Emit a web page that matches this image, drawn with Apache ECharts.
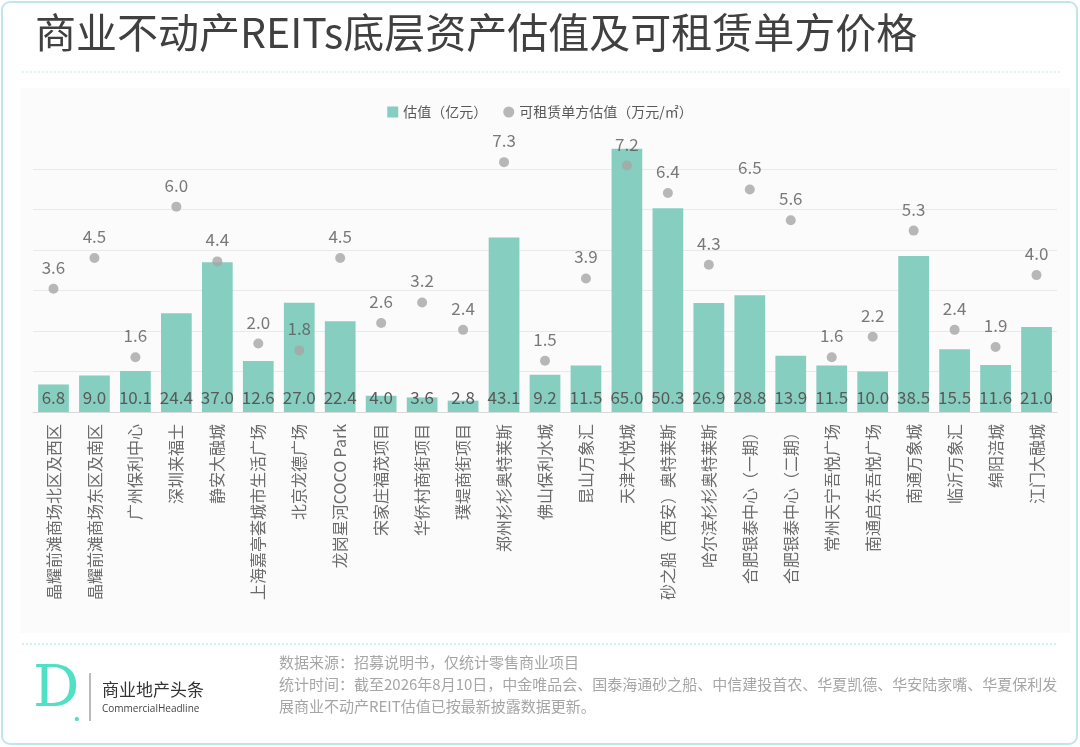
<!doctype html>
<html>
<head>
  <meta charset="utf-8">
  <title>index</title>
  <script src="https://cdn.jsdelivr.net/npm/echarts@6/dist/echarts.min.js"></script>
  <style>
    html, body { margin: 0; padding: 0; background: #fff; }
    #main { width: 1080px; height: 747px; }
  </style>
</head>
<body>
  <div id="main"></div>
  <script>
    // 项目名称
    var names = ['晶耀前滩商场北区及西区', '晶耀前滩商场东区及南区', '广州保利中心', '深圳来福士', '静安大融城',
      '上海嘉亭荟城市生活广场', '北京龙德广场', '龙岗星河COCO Park', '宋家庄福茂项目', '华侨村商街项目',
      '璞堤商街项目', '郑州杉杉奥特莱斯', '佛山保利水城', '昆山万象汇', '天津大悦城',
      '砂之船（西安）奥特莱斯', '哈尔滨杉杉奥特莱斯', '合肥银泰中心（一期）', '合肥银泰中心（二期）', '常州天宁吾悦广场',
      '南通启东吾悦广场', '南通万象城', '临沂万象汇', '绵阳涪城', '江门大融城'];
    // 估值（亿元）
    var valuation = [6.8, 9.0, 10.1, 24.4, 37.0, 12.6, 27.0, 22.4, 4.0, 3.6,
      2.8, 43.1, 9.2, 11.5, 65.0, 50.3, 26.9, 28.8, 13.9, 11.5,
      10.0, 38.5, 15.5, 11.6, 21.0];
    // 可租赁单方估值（万元/㎡）
    var unitPrice = [3.6, 4.5, 1.6, 6.0, 4.4, 2.0, 1.8, 4.5, 2.6, 3.2,
      2.4, 7.3, 1.5, 3.9, 7.2, 6.4, 4.3, 6.5, 5.6, 1.6,
      2.2, 5.3, 2.4, 1.9, 4.0];

    var font = '"Noto Sans CJK SC", "Noto Sans", sans-serif';
    var chart = echarts.init(document.getElementById('main'));

    chart.setOption({
      backgroundColor: '#fff',
      textStyle: { fontFamily: font },
      animation: false,
      title: {
        text: '商业不动产REITs底层资产估值及可租赁单方价格',
        left: 30, top: 7,
        textStyle: { fontSize: 41, fontWeight: 'normal', color: '#404040', fontFamily: font }
      },
      legend: {
        top: 100, left: 'center',
        itemWidth: 11, itemHeight: 11, itemGap: 16,
        textStyle: { fontSize: 14, color: '#595959' },
        data: [
          { name: '估值（亿元）', icon: 'rect' },
          { name: '可租赁单方估值（万元/㎡）', icon: 'circle' }
        ]
      },
      grid: { left: 33, right: 23, top: 169, bottom: 335 },
      xAxis: {
        type: 'category',
        data: names,
        axisLine: { lineStyle: { color: '#d9d9d9', width: 1 } },
        axisTick: { show: false },
        axisLabel: { rotate: 90, margin: 12, fontSize: 16, color: '#6b6b6b', interval: 0 }
      },
      yAxis: [
        {
          type: 'value', min: 0, max: 60, interval: 10,
          axisLabel: { show: false }, axisLine: { show: false }, axisTick: { show: false },
          splitLine: { lineStyle: { color: '#e9e9e9', width: 1 } }
        },
        {
          type: 'value', min: 0, max: 7.1,
          axisLabel: { show: false }, axisLine: { show: false }, axisTick: { show: false },
          splitLine: { show: false }
        }
      ],
      series: [
        {
          name: '估值（亿元）',
          type: 'bar',
          data: valuation,
          clip: false,
          barWidth: '75%',
          itemStyle: { color: '#86cebf' },
          label: {
            show: true, position: 'insideBottom', distance: 6,
            fontSize: 17, color: '#595959',
            formatter: function (p) { return p.value.toFixed(1); }
          },
          z: 2
        },
        {
          name: '可租赁单方估值（万元/㎡）',
          type: 'scatter',
          yAxisIndex: 1,
          data: unitPrice,
          clip: false,
          symbolSize: 10,
          itemStyle: { color: '#a6a6a6' },
          label: {
            show: true, position: 'top', distance: 8,
            fontSize: 17, color: '#595959',
            formatter: function (p) { return p.value.toFixed(1); }
          },
          z: 3
        }
      ],
      graphic: [
        {
          type: 'rect', silent: true, z: -10,
          shape: { x: 2, y: 2, width: 1075, height: 742, r: 8 },
          style: { fill: 'none', stroke: '#bfe6ea', lineWidth: 2 }
        },
        {
          type: 'rect', silent: true, z: -9,
          shape: { x: 20, y: 88, width: 1050, height: 545 },
          style: { fill: '#fbfbfb' }
        },
        {
          type: 'line', silent: true,
          shape: { x1: 22, y1: 72, x2: 1060, y2: 72 },
          style: { stroke: '#bfecec', lineWidth: 1, lineDash: [2, 2] }
        },
        {
          type: 'line', silent: true,
          shape: { x1: 22, y1: 644, x2: 1058, y2: 644 },
          style: { stroke: '#bfecec', lineWidth: 1.5, lineDash: [2, 2] }
        },
        {
          type: 'text', left: 33, top: 662,
          style: { text: 'D', font: '58px "DejaVu Serif", serif', fill: '#4fe0c6' }
        },
        {
          type: 'text', left: 73, top: 704,
          style: { text: '.', font: 'bold 22px "DejaVu Serif", serif', fill: '#4fe0c6' }
        },
        {
          type: 'line', silent: true,
          shape: { x1: 90, y1: 673, x2: 90, y2: 721 },
          style: { stroke: '#777', lineWidth: 1 }
        },
        {
          type: 'text', left: 102, top: 681,
          style: { text: '商业地产头条', font: '17px ' + font, fill: '#333' }
        },
        {
          type: 'text', left: 102, top: 704,
          style: { text: 'CommercialHeadline', font: '10px "Open Sans", sans-serif', fill: '#444' }
        },
        {
          type: 'text', left: 279, top: 651,
          style: {
            text: '数据来源：招募说明书，仅统计零售商业项目\n统计时间：截至2026年8月10日，中金唯品会、国泰海通砂之船、中信建投首农、华夏凯德、华安陆家嘴、华夏保利发\n展商业不动产REIT估值已按最新披露数据更新。',
            font: '15px ' + font, fill: '#a6a6a6', lineHeight: 22
          }
        }
      ]
    });
  </script>
</body>
</html>
